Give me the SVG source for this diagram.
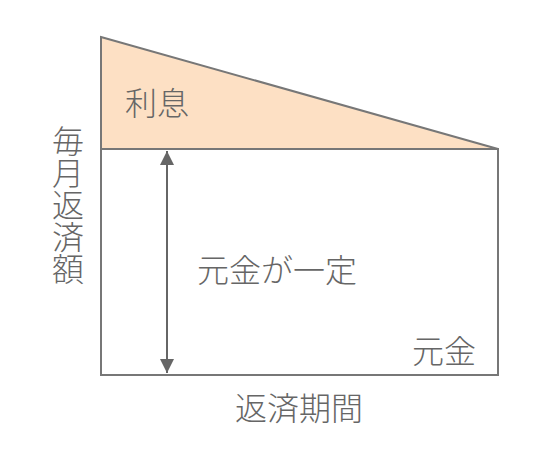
<svg xmlns="http://www.w3.org/2000/svg" width="550" height="450" viewBox="0 0 550 450">
<style>
.t{font-family:"Noto Sans CJK JP","Noto Sans",sans-serif;font-size:32px;font-weight:300;fill:#666}
.s{stroke:#777;stroke-width:2;fill:none}
</style>
<defs>
<marker id="ah" viewBox="0 0 10 10" refX="10" refY="5" markerWidth="7" markerHeight="7" orient="auto-start-reverse" markerUnits="strokeWidth">
<path d="M0,0 L10,5 L0,10 Z" fill="#666"/>
</marker>
</defs>
<rect width="550" height="450" fill="#fff"/>
<g id="interest">
<polygon points="101,37 498,149 101,149" fill="#fde0c4" stroke="#777" stroke-width="2"/>
<text class="t" x="157" y="115" text-anchor="middle">利息</text>
</g>
<g id="principal">
<rect x="101" y="149" width="397" height="226" class="s"/>
<text class="t" x="444" y="363" text-anchor="middle">元金</text>
</g>
<g id="connectors">
<line x1="167" y1="151" x2="167" y2="373" stroke="#666" stroke-width="2" marker-start="url(#ah)" marker-end="url(#ah)"/>
</g>
<g id="labels">
<text class="t" x="277" y="282" text-anchor="middle">元金が一定</text>
<text class="t" x="299" y="420" text-anchor="middle">返済期間</text>
<text class="t" x="68" y="153" text-anchor="middle">毎</text>
<text class="t" x="68" y="185" text-anchor="middle">月</text>
<text class="t" x="68" y="217" text-anchor="middle">返</text>
<text class="t" x="68" y="249" text-anchor="middle">済</text>
<text class="t" x="68" y="281" text-anchor="middle">額</text>
</g>
</svg>
